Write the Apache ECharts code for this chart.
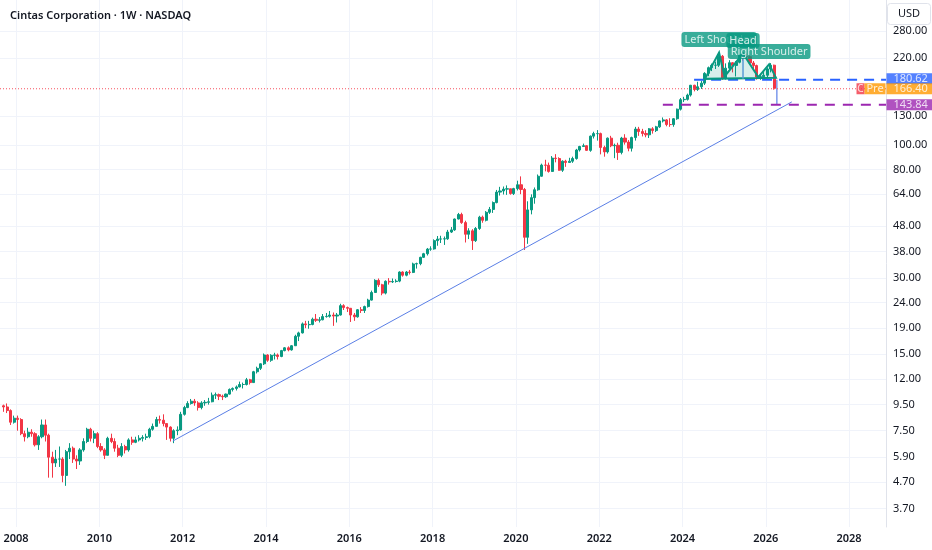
<!DOCTYPE html>
<html>
<head>
<meta charset="utf-8">
<title>Cintas Corporation · 1W · NASDAQ</title>
<script src="https://cdn.jsdelivr.net/npm/echarts@6.0.0/dist/echarts.min.js"></script>
<style>
html,body{margin:0;padding:0;background:#fff;}
#main{width:932px;height:550px;}
</style>
</head>
<body>
<div id="main"></div>
<script>
// monthly candles (split adjusted)
var firstMonth = [2007, 9];
var firstOpen = 9.4;
var closes = [
  9.3, 9.0, 8.1, 8.4,
  8.3, 7.3, 7.1, 7.4, 7.3, 6.6, 7.1, 7.9, 7.2, 5.9, 5.6, 5.8,
  5.8, 5.0, 6.2, 6.4, 5.8, 5.7, 6.3, 6.8, 7.6, 7.0, 7.3, 6.5,
  6.3, 6.0, 7.0, 6.8, 6.4, 6.0, 6.5, 6.3, 6.9, 6.75, 6.9, 7.0,
  7.05, 7.1, 7.6, 7.8, 8.3, 8.25, 8.0, 7.75, 7.0, 7.5, 7.55, 8.7,
  9.25, 9.6, 9.8, 9.65, 9.25, 9.65, 9.7, 9.75, 10.35, 10.4, 10.25, 10.2,
  10.45, 10.9, 11.0, 11.15, 11.4, 11.4, 11.9, 11.6, 12.8, 13.2, 13.75, 14.9,
  14.2, 14.85, 14.9, 14.7, 15.5, 15.9, 15.6, 16.2, 17.65, 18.2, 19.75, 19.6,
  19.65, 20.6, 20.4, 20.5, 21.1, 21.15, 21.4, 21.2, 21.4, 23.3, 22.9, 22.75,
  21.4, 21.05, 22.45, 22.3, 23.1, 24.5, 26.25, 29.3, 28.15, 26.1, 29.05, 28.9,
  29.0, 29.1, 31.6, 30.7, 31.6, 31.5, 34.0, 34.1, 36.1, 37.3, 38.9, 38.95,
  42.0, 42.6, 42.65, 42.7, 45.4, 46.3, 51.1, 53.25, 49.45, 44.5, 45.9, 42.0,
  46.9, 51.95, 50.5, 54.3, 55.75, 59.3, 65.2, 65.9, 67.0, 67.2, 64.35, 67.3,
  69.7, 66.8, 43.3, 55.5, 62.0, 66.6, 75.3, 83.3, 83.2, 78.65, 88.75, 88.4,
  79.5, 86.3, 85.3, 86.3, 88.4, 95.5, 98.6, 99.3, 95.2, 108.3, 110.8, 110.8,
  97.75, 93.9, 106.35, 99.25, 99.7, 93.4, 106.4, 102.6, 97.05, 106.9, 115.5, 112.9,
  110.95, 109.6, 115.7, 113.9, 117.8, 124.3, 125.5, 120.3, 120.25, 126.8, 138.25, 150.7,
  151.15, 157.15, 171.75, 165.25, 169.45, 175.1, 191.3, 201.4, 205.9, 205.9, 223.4, 182.7,
  200.6, 210.7, 205.5, 211.5, 226.6, 222.9, 222.5, 210.2, 205.3, 185.0, 185.5, 188.1,
  199.0, 206.0, 167.0
];
var highs = [
  9.5, 9.6, 9.1, 8.6,
  8.6, 8.4, 7.5, 7.7, 7.6, 7.4, 7.2, 8.3, 8.3, 7.3, 6.2, 6.3,
  6.5, 5.9, 6.3, 6.7, 6.5, 6.0, 6.4, 7.0, 7.7, 7.7, 7.5, 7.4,
  6.7, 6.4, 7.1, 7.3, 7.0, 6.6, 6.7, 6.6, 7.0, 7.1, 7.1, 7.2,
  7.2, 7.3, 7.7, 8.0, 8.5, 8.6, 8.7, 8.0, 7.8, 7.6, 7.8, 8.9,
  9.4, 9.8, 10.0, 10.0, 9.8, 9.8, 9.9, 10.1, 10.6, 10.6, 10.5, 10.4,
  10.5, 11.0, 11.1, 11.3, 11.7, 11.6, 12.1, 12.0, 12.9, 13.4, 13.8, 15.1,
  15.0, 15.0, 15.2, 15.1, 15.6, 16.0, 16.1, 16.3, 17.9, 18.4, 20.0, 20.3,
  20.3, 20.9, 21.6, 21.0, 21.6, 21.8, 22.2, 21.9, 21.8, 23.7, 23.6, 23.1,
  22.8, 21.8, 22.6, 23.0, 23.3, 24.8, 26.7, 29.6, 29.8, 28.4, 29.3, 29.9,
  29.8, 29.6, 31.8, 31.8, 31.9, 32.2, 34.4, 34.4, 36.3, 37.6, 39.3, 39.9,
  42.5, 43.8, 43.9, 43.6, 46.3, 47.5, 51.3, 54.0, 54.1, 50.3, 47.0, 46.6,
  47.5, 52.6, 52.7, 54.9, 57.0, 59.9, 66.5, 68.4, 68.6, 69.3, 67.2, 67.8,
  72.3, 75.2, 67.7, 60.0, 63.9, 68.0, 76.5, 84.4, 87.4, 85.2, 90.4, 92.0,
  89.4, 87.0, 87.4, 89.0, 89.9, 96.5, 99.2, 101.2, 99.7, 108.9, 112.7, 114.4,
  111.8, 99.3, 107.0, 108.6, 101.2, 102.0, 107.6, 110.2, 104.5, 107.8, 117.8, 117.8,
  115.7, 114.2, 116.5, 117.5, 118.9, 124.9, 128.3, 126.4, 127.4, 127.6, 139.0, 153.0,
  154.7, 159.2, 172.3, 172.5, 177.3, 178.9, 193.3, 203.5, 209.1, 212.6, 228.1, 226.0,
  209.5, 215.6, 212.0, 213.7, 228.0, 229.2, 229.0, 225.0, 214.0, 207.0, 189.5, 193.5,
  202.0, 210.0, 207.0
];
var lows = [
  8.9, 8.8, 7.9, 8.0,
  7.5, 7.2, 6.8, 7.0, 7.1, 6.5, 6.3, 7.0, 6.8, 4.9, 4.9, 5.4,
  5.4, 4.7, 4.55, 5.8, 5.6, 5.3, 5.5, 6.2, 6.7, 6.8, 6.7, 6.4,
  6.2, 5.8, 6.0, 6.7, 6.2, 5.9, 5.9, 6.1, 6.2, 6.6, 6.7, 6.8,
  6.8, 6.9, 7.0, 7.5, 7.8, 8.0, 7.8, 6.9, 6.8, 6.7, 7.2, 7.5,
  8.6, 9.2, 9.5, 9.4, 9.0, 9.1, 9.4, 9.5, 9.7, 10.0, 9.9, 9.9,
  10.1, 10.4, 10.7, 10.8, 11.1, 11.0, 11.3, 11.4, 11.6, 12.6, 13.0, 13.6,
  14.0, 14.0, 14.3, 14.3, 14.6, 15.4, 15.4, 15.5, 16.2, 16.9, 18.1, 19.0,
  18.9, 19.5, 20.1, 20.0, 20.4, 20.9, 20.9, 19.4, 20.0, 21.3, 22.4, 22.0,
  20.1, 20.3, 20.9, 21.8, 21.8, 22.9, 24.4, 26.2, 27.6, 25.6, 25.8, 28.2,
  28.6, 28.7, 28.8, 30.3, 30.4, 30.9, 31.3, 32.6, 33.6, 35.9, 36.7, 38.3,
  38.7, 40.1, 41.1, 40.4, 42.3, 45.0, 45.9, 50.9, 48.9, 41.3, 42.6, 38.6,
  41.5, 46.3, 49.4, 50.0, 53.5, 54.0, 58.9, 63.2, 63.8, 63.6, 63.7, 63.5,
  66.2, 64.0, 38.6, 40.8, 53.3, 58.7, 66.0, 75.0, 78.7, 77.8, 78.4, 85.4,
  79.2, 78.3, 82.0, 85.3, 85.0, 87.5, 94.2, 98.5, 94.8, 94.0, 106.0, 104.0,
  91.8, 89.9, 92.5, 98.0, 88.7, 87.3, 91.8, 100.3, 94.4, 94.2, 104.0, 108.6,
  108.0, 107.2, 106.5, 110.8, 112.4, 116.7, 122.6, 118.4, 117.8, 117.9, 125.6, 136.6,
  147.5, 149.5, 155.0, 162.5, 163.2, 166.0, 172.2, 186.5, 195.3, 199.0, 202.8, 180.4,
  180.8, 197.8, 193.0, 186.0, 209.5, 214.6, 216.5, 207.0, 198.0, 180.8, 180.4, 182.0,
  184.0, 193.0, 165.0
];

var priceTicks = [280, 220, 130, 100, 80, 64, 48, 38, 30, 24, 19, 15, 12, 9.5, 7.5, 5.9, 4.7, 3.7];
var yearTicks = ['2008', '2010', '2012', '2014', '2016', '2018', '2020', '2022', '2024', '2026', '2028'];

// drawings
var trendLine = [['2011-10-07', 6.83], ['2026-08-17', 147.7]];
var targetLine = [['2026-04-08', 180.62], ['2026-04-08', 143.84]];
var neckLevel = 180.62, neckStart = '2024-04-12';
var supportLevel = 143.84, supportStart = '2023-07-13';
var preLevel = 166.40;
var hsPoints = [
  ['2024-07-16', 182], ['2024-11-17', 231], ['2025-01-04', 186], ['2025-06-15', 229],
  ['2025-10-27', 185], ['2026-01-30', 207.5], ['2026-03-31', 184]
];
var hsNames = ['Left Shoulder', 'Head', 'Right Shoulder'];

var xMin = '2007-08-13', xMax = '2028-11-20';
var yMin = 3.133, yMax = 372;

var FONT = 'Noto Sans';
function t(s) { return +new Date(s + 'T00:00:00'); }

var candles = [];
for (var i = 0; i < closes.length; i++) {
  var y = firstMonth[0] + Math.floor((firstMonth[1] - 1 + i) / 12);
  var m = (firstMonth[1] - 1 + i) % 12;
  var o = i ? closes[i - 1] : firstOpen;   // open = previous close
  var c = closes[i];
  candles.push([+new Date(y, m, 15), o, c, Math.min(lows[i], o, c), Math.max(highs[i], o, c)]);
}

var logTicks = priceTicks.map(function (p) { return Math.log10(p); });
var yearT = yearTicks.map(function (s) { return t(s + '-01-01'); });
var hsData = hsPoints.map(function (p) { return [t(p[0]), p[1]]; });

function hline(start, level, color, type, width) {
  return {
    type: 'line', symbol: 'none', silent: true, z: 4,
    data: [[t(start), level], [t(xMax), level]],
    lineStyle: { color: color, width: width, type: type }
  };
}
function tag(level, text, color, off) {
  return {
    value: [t(xMax), level],
    label: {
      show: true, position: 'right', distance: 0, formatter: text,
      backgroundColor: color, color: '#fff', fontSize: 11, fontFamily: FONT,
      lineHeight: 11, padding: [0, 7], width: 32, offset: [0, off || 0]
    }
  };
}

var chart = echarts.init(document.getElementById('main'));
chart.setOption({
  animation: false,
  backgroundColor: '#fff',
  title: {
    text: 'Cintas Corporation · 1W · NASDAQ', left: 5, top: 5,
    textStyle: { fontSize: 11, fontWeight: 600, color: '#131722', fontFamily: FONT }
  },
  graphic: [{
    type: 'group', left: 887, top: 3, children: [
      { type: 'rect', shape: { x: 0, y: 0, width: 43, height: 21, r: 3 }, style: { fill: '#fff', stroke: '#e0e3eb' } },
      { type: 'text', x: 21.5, y: 10.5, style: { text: 'USD', fill: '#131722', font: '11px "Noto Sans"', align: 'center', verticalAlign: 'middle' } }
    ]
  }],
  grid: { left: 0, right: 46, top: 0, bottom: 23 },
  xAxis: {
    type: 'value', min: t(xMin), max: t(xMax),
    axisLine: { show: false },
    axisTick: { show: false, customValues: yearT },
    axisLabel: {
      customValues: yearT, margin: 6, color: '#131722', fontSize: 11, fontWeight: 600, fontFamily: FONT,
      formatter: function (v) { return String(new Date(v).getFullYear()); }
    },
    splitLine: { show: true, lineStyle: { color: '#f0f3fa' } }
  },
  yAxis: [{
    type: 'log', logBase: 10, min: yMin, max: yMax, position: 'right',
    axisLine: { show: true, lineStyle: { color: '#e0e3eb' } },
    axisTick: { show: false }, axisLabel: { show: false }, splitLine: { show: false }
  }, {
    type: 'value', min: Math.log10(yMin), max: Math.log10(yMax), position: 'right',
    axisLine: { show: false },
    axisTick: { show: false, customValues: logTicks },
    axisLabel: {
      customValues: logTicks, margin: 7, color: '#131722', fontSize: 11, fontFamily: FONT,
      formatter: function (v) { return Math.pow(10, v).toFixed(2); }
    },
    splitLine: { show: true, lineStyle: { color: '#f0f3fa' } }
  }],
  series: [
    {
      type: 'candlestick', data: candles, barWidth: 2.6, z: 2,
      itemStyle: { color: '#089981', color0: '#f23645', borderColor: '#089981', borderColor0: '#f23645', borderWidth: 1 }
    },
    {
      type: 'line', symbol: 'none', silent: true, z: 3,
      data: trendLine.map(function (p) { return [t(p[0]), p[1]]; }),
      lineStyle: { color: '#5b7fe6', width: 1 }
    },
    {
      type: 'line', symbol: 'none', silent: true, z: 3,
      data: targetLine.map(function (p) { return [t(p[0]), p[1]]; }),
      lineStyle: { color: '#5b7fe6', width: 1.2 }
    },
    {
      type: 'line', symbol: 'none', silent: true, z: 3,
      data: [[t(xMin), preLevel], [t(xMax), preLevel]],
      lineStyle: { color: '#f7525f', width: 1, type: [1, 2] }
    },
    hline(neckStart, neckLevel, '#2962ff', [10, 7], 2),
    hline(supportStart, supportLevel, '#9c27b0', [10, 8], 2),
    {
      type: 'custom', z: 5, silent: true, data: hsData,
      encode: { x: 0, y: 1 },
      renderItem: function (params, api) {
        if (params.dataIndex !== 0) return null;
        var pts = hsData.map(function (d) { return api.coord(d); });
        var head = pts[3];
        var neckY = api.coord([hsData[3][0], hsData[0][1]])[1];
        return {
          type: 'group', children: [
            { type: 'polygon', shape: { points: pts }, style: { fill: 'rgba(8,153,129,0.16)', stroke: '#089981', lineWidth: 2 } },
            { type: 'line', shape: { x1: head[0], y1: head[1], x2: head[0], y2: neckY }, style: { stroke: '#5b9bd5', lineWidth: 1.5 } }
          ]
        };
      }
    },
    {
      type: 'scatter', z: 10, silent: true, clip: false, symbolSize: 1,
      itemStyle: { color: 'rgba(0,0,0,0)' },
      data: [1, 3, 5].map(function (k, j) {
        return {
          value: hsData[k],
          label: {
            show: true, position: 'top', distance: 5, formatter: hsNames[j],
            backgroundColor: '#089981', color: '#fff', borderRadius: 3, padding: [2, 3],
            fontSize: 11, fontFamily: FONT
          }
        };
      })
    },
    {
      type: 'scatter', z: 12, silent: true, clip: false, symbolSize: 1,
      itemStyle: { color: 'rgba(0,0,0,0)' },
      data: [
        tag(neckLevel, neckLevel.toFixed(2), '#2962ff', -1),
        tag(preLevel, preLevel.toFixed(2), '#ff9800', 0),
        tag(supportLevel, supportLevel.toFixed(2), '#9c27b0', 0),
        {
          value: [t(xMax), preLevel],
          label: {
            show: true, position: 'left', distance: 0, formatter: '{c|C}{p|Pre}',
            rich: {
              c: { backgroundColor: '#f23645', color: '#fff', fontSize: 10, width: 8, height: 11, lineHeight: 11, fontFamily: FONT },
              p: { backgroundColor: '#ff9800', color: '#fff', fontSize: 11, width: 21, height: 11, lineHeight: 11, align: 'center', fontFamily: FONT }
            }
          }
        }
      ]
    }
  ]
});
</script>
</body>
</html>
